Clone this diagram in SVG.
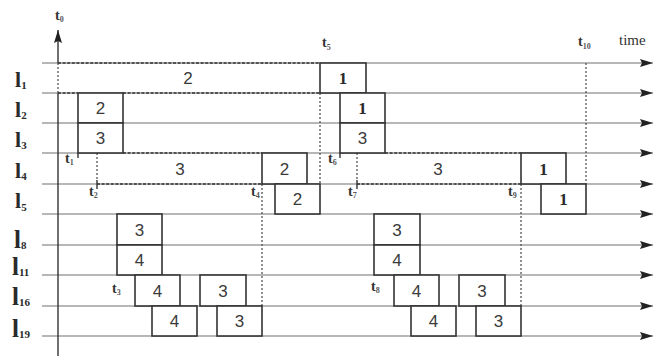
<svg xmlns="http://www.w3.org/2000/svg" width="667" height="356" viewBox="0 0 667 356">
<style>
.row{stroke:#707070;stroke-width:1.1;fill:none}
.axis{stroke:#333;stroke-width:1.4;fill:none}
.box{fill:#fff;stroke:#333;stroke-width:1.6}
.dash{stroke:#333;stroke-width:1.6;stroke-dasharray:3 1.6;fill:none}
.dot{stroke:#555;stroke-width:1.3;stroke-dasharray:2 2;fill:none}
.tick{stroke:#333;stroke-width:1.4}
.num{font-family:"Liberation Sans",Arial,sans-serif;font-size:17px;fill:#3a3a3a;text-anchor:middle}
.one{font-family:"Liberation Serif","Times New Roman",serif;font-size:17px;font-weight:bold;fill:#2a2a2a;text-anchor:middle}
.lab{font-family:"Liberation Serif","Times New Roman",serif;font-weight:bold;fill:#2a2a2a}
.tl{font-family:"Liberation Serif","Times New Roman",serif;font-weight:bold;font-size:14px;fill:#333}
.ts{font-family:"Liberation Serif","Times New Roman",serif;font-weight:bold;font-size:8px;fill:#555}
.time{font-family:"Liberation Serif","Times New Roman",serif;font-size:15px;fill:#333}
</style>
<defs>
<marker id="arr" markerUnits="userSpaceOnUse" markerWidth="14" markerHeight="10" refX="13" refY="4" orient="auto">
<path d="M0,0 L13,4 L0,8 L2,4 z" fill="#222"/>
</marker>
</defs>
<rect width="667" height="356" fill="#fff"/>

<g id="connectors">
<g id="rows">
<line class="row" x1="42" y1="63" x2="653" y2="63" marker-end="url(#arr)"/>
<line class="row" x1="42" y1="93" x2="653" y2="93" marker-end="url(#arr)"/>
<line class="row" x1="42" y1="123" x2="653" y2="123" marker-end="url(#arr)"/>
<line class="row" x1="42" y1="153" x2="653" y2="153" marker-end="url(#arr)"/>
<line class="row" x1="42" y1="184" x2="653" y2="184" marker-end="url(#arr)"/>
<line class="row" x1="42" y1="214" x2="653" y2="214" marker-end="url(#arr)"/>
<line class="row" x1="42" y1="245" x2="653" y2="245" marker-end="url(#arr)"/>
<line class="row" x1="42" y1="275" x2="653" y2="275" marker-end="url(#arr)"/>
<line class="row" x1="42" y1="306" x2="653" y2="306" marker-end="url(#arr)"/>
<line class="row" x1="42" y1="336" x2="653" y2="336" marker-end="url(#arr)"/>
</g>
<g id="time-axis">
<line class="axis" x1="58" y1="356" x2="58" y2="93"/>
<line class="axis" x1="58" y1="63" x2="58" y2="30" marker-end="url(#arr)"/>
<line class="dot" x1="58" y1="63" x2="58" y2="93"/>
</g>
<g id="dashed-spans">
<line class="dash" x1="58" y1="63" x2="320" y2="63"/>
<line class="dash" x1="58" y1="93" x2="78" y2="93"/>
<line class="dash" x1="123" y1="93" x2="320" y2="93"/>
<line class="dash" x1="123" y1="153" x2="262" y2="153"/>
<line class="dash" x1="97" y1="184" x2="262" y2="184"/>
<line class="dot" x1="97" y1="153" x2="97" y2="181"/>
<line class="tick" x1="97" y1="180" x2="97" y2="189"/>
<line class="dash" x1="385" y1="153" x2="521" y2="153"/>
<line class="dash" x1="357" y1="184" x2="521" y2="184"/>
<line class="dot" x1="357" y1="153" x2="357" y2="181"/>
<line class="tick" x1="357" y1="180" x2="357" y2="189"/>
</g>
<g id="time-markers">
<line class="dot" x1="320" y1="93" x2="320" y2="184"/>
<line class="dot" x1="586" y1="63" x2="586" y2="184"/>
<line class="dot" x1="262" y1="184" x2="262" y2="306"/>
<line class="dot" x1="521" y1="184" x2="521" y2="306"/>
<line class="tick" x1="78" y1="153" x2="78" y2="158"/>
<line class="tick" x1="340" y1="153" x2="340" y2="158"/>
</g>
</g>

<g id="span-labels">
<text class="num" x="188" y="84">2</text>
<text class="num" x="180" y="175">3</text>
<text class="num" x="438" y="175">3</text>
</g>

<g id="n-l1-1"><rect class="box" x="320" y="63" width="46" height="30"/><text class="one" x="343" y="84">1</text></g>
<g id="n-l2-2"><rect class="box" x="78" y="93" width="45" height="30"/><text class="num" x="100.5" y="114">2</text></g>
<g id="n-l3-3"><rect class="box" x="78" y="123" width="45" height="30"/><text class="num" x="100.5" y="144">3</text></g>
<g id="n-l4-2"><rect class="box" x="262" y="153" width="45" height="31"/><text class="num" x="284.5" y="175">2</text></g>
<g id="n-l5-2"><rect class="box" x="275" y="184" width="45" height="30"/><text class="num" x="297.5" y="205">2</text></g>
<g id="n-l8-3"><rect class="box" x="117" y="214" width="45" height="31"/><text class="num" x="139.5" y="236">3</text></g>
<g id="n-l11-4"><rect class="box" x="117" y="245" width="45" height="30"/><text class="num" x="139.5" y="266">4</text></g>
<g id="n-l16-4"><rect class="box" x="135" y="275" width="45" height="31"/><text class="num" x="157.5" y="297">4</text></g>
<g id="n-l16-3"><rect class="box" x="200" y="275" width="46" height="31"/><text class="num" x="223" y="297">3</text></g>
<g id="n-l19-4"><rect class="box" x="152" y="306" width="45" height="30"/><text class="num" x="174.5" y="327">4</text></g>
<g id="n-l19-3"><rect class="box" x="217" y="306" width="45" height="30"/><text class="num" x="239.5" y="327">3</text></g>

<g id="n-l2-1"><rect class="box" x="340" y="93" width="45" height="30"/><text class="one" x="362.5" y="114">1</text></g>
<g id="n-l3-3b"><rect class="box" x="340" y="123" width="45" height="30"/><text class="num" x="362.5" y="144">3</text></g>
<g id="n-l4-1"><rect class="box" x="521" y="153" width="45" height="31"/><text class="one" x="543.5" y="175">1</text></g>
<g id="n-l5-1"><rect class="box" x="541" y="184" width="45" height="30"/><text class="one" x="563.5" y="205">1</text></g>
<g id="n-l8-3b"><rect class="box" x="374" y="214" width="46" height="31"/><text class="num" x="397" y="236">3</text></g>
<g id="n-l11-4b"><rect class="box" x="374" y="245" width="46" height="30"/><text class="num" x="397" y="266">4</text></g>
<g id="n-l16-4b"><rect class="box" x="394" y="275" width="45" height="31"/><text class="num" x="416.5" y="297">4</text></g>
<g id="n-l16-3b"><rect class="box" x="459" y="275" width="46" height="31"/><text class="num" x="482" y="297">3</text></g>
<g id="n-l19-4b"><rect class="box" x="411" y="306" width="45" height="30"/><text class="num" x="433.5" y="327">4</text></g>
<g id="n-l19-3b"><rect class="box" x="476" y="306" width="45" height="30"/><text class="num" x="498.5" y="327">3</text></g>

<g id="row-labels">
<text class="lab" x="15" y="87" font-size="22">l<tspan font-size="11" dy="2">1</tspan></text>
<text class="lab" x="15" y="117" font-size="22">l<tspan font-size="11" dy="2">2</tspan></text>
<text class="lab" x="15" y="147" font-size="22">l<tspan font-size="11" dy="2">3</tspan></text>
<text class="lab" x="15" y="178" font-size="22">l<tspan font-size="11" dy="2">4</tspan></text>
<text class="lab" x="15" y="208" font-size="22">l<tspan font-size="11" dy="3">5</tspan></text>
<text class="lab" x="14" y="248" font-size="25">l<tspan font-size="11" dy="1">8</tspan></text>
<text class="lab" x="12" y="275" font-size="25">l<tspan font-size="11" dy="1">11</tspan></text>
<text class="lab" x="12" y="305" font-size="25">l<tspan font-size="11" dy="1">16</tspan></text>
<text class="lab" x="12" y="337" font-size="25">l<tspan font-size="11" dy="1">19</tspan></text>
</g>

<g id="time-labels">
<text class="tl" x="55" y="20">t<tspan class="ts" dy="2">0</tspan></text>
<text class="tl" x="322" y="47">t<tspan class="ts" dy="3">5</tspan></text>
<text class="tl" x="578" y="46">t<tspan class="ts" dy="3">10</tspan></text>
<text class="time" x="619" y="45">time</text>
<text class="tl" x="65" y="163">t<tspan class="ts" dy="2">1</tspan></text>
<text class="tl" x="89" y="196">t<tspan class="ts" dy="2">2</tspan></text>
<text class="tl" x="251" y="196">t<tspan class="ts" dy="2">4</tspan></text>
<text class="tl" x="112" y="293">t<tspan class="ts" dy="2">3</tspan></text>
<text class="tl" x="328" y="163">t<tspan class="ts" dy="2">6</tspan></text>
<text class="tl" x="348" y="196">t<tspan class="ts" dy="2">7</tspan></text>
<text class="tl" x="508" y="196">t<tspan class="ts" dy="2">9</tspan></text>
<text class="tl" x="371" y="291">t<tspan class="ts" dy="2">8</tspan></text>
</g>
</svg>
